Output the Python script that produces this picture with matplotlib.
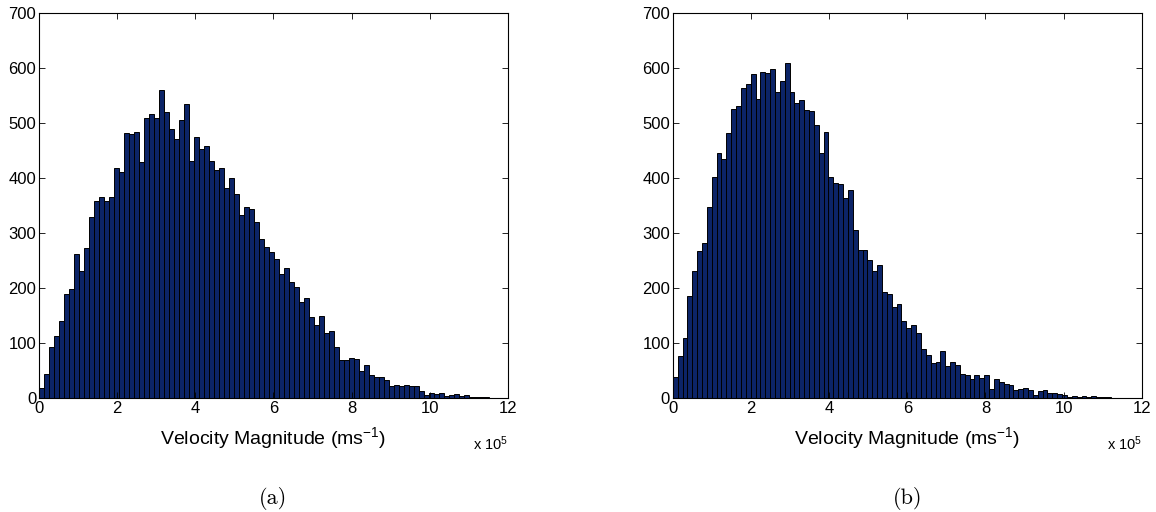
import numpy as np
import matplotlib.pyplot as plt

# histogram counts (bins start at 0, units of 1e5 m/s)
counts_a = [17, 43, 92, 112, 139, 188, 198, 262, 230, 272,
            328, 358, 366, 358, 366, 417, 410, 481, 479, 484,
            428, 508, 516, 508, 560, 519, 488, 470, 505, 534,
            431, 474, 452, 457, 430, 414, 417, 382, 400, 371,
            332, 347, 343, 319, 288, 274, 265, 253, 226, 236,
            211, 202, 174, 181, 147, 132, 148, 117, 121, 92,
            68, 68, 72, 70, 49, 59, 41, 38, 38, 32,
            21, 24, 21, 24, 21, 21, 13, 5, 9, 7,
            9, 3, 5, 7, 4, 5, 2, 2, 2, 1]
bin_width_a = 0.128

counts_b = [38, 76, 108, 185, 230, 267, 282, 347, 401, 446,
            434, 482, 525, 530, 563, 570, 588, 543, 593, 590,
            598, 556, 576, 608, 556, 536, 542, 523, 522, 496,
            445, 483, 401, 391, 388, 363, 377, 305, 268, 269,
            250, 230, 242, 192, 188, 165, 170, 140, 127, 132,
            118, 88, 78, 64, 65, 85, 57, 65, 59, 43,
            42, 34, 41, 36, 41, 16, 34, 29, 25, 23,
            14, 16, 17, 14, 5, 12, 14, 9, 9, 7,
            5, 1, 4, 2, 3, 2, 3, 1, 2, 1]
bin_width_b = 0.1245

x_ticks = [0, 2, 4, 6, 8, 10, 12]
y_ticks = [0, 100, 200, 300, 400, 500, 600, 700]
panel_labels = ["(a)", "(b)"]

plt.rcParams["font.family"] = ["Liberation Sans", "DejaVu Sans"]
plt.rcParams["mathtext.fontset"] = "custom"
plt.rcParams["mathtext.rm"] = "Liberation Sans"
plt.rcParams["mathtext.it"] = "Liberation Sans:italic"

fig = plt.figure(figsize=(11.56, 5.12), dpi=100)
ax_a = fig.add_axes([0.0337, 0.223, 0.4057, 0.752])
ax_b = fig.add_axes([0.582, 0.223, 0.4057, 0.752])

for ax, counts, w, lab in [(ax_a, counts_a, bin_width_a, panel_labels[0]),
                           (ax_b, counts_b, bin_width_b, panel_labels[1])]:
    edges = np.arange(len(counts)) * w
    ax.bar(edges, counts, width=w, align="edge", color="#0c2467",
           edgecolor="black", linewidth=0.7)
    ax.set_xlim(0, 12)
    ax.set_ylim(0, 700)
    ax.set_xticks(x_ticks)
    ax.set_yticks(y_ticks)
    ax.tick_params(direction="in", top=True, right=True, length=4,
                   labelsize=12, width=0.6, pad=2)
    for s in ax.spines.values():
        s.set_linewidth(0.8)
    ax.set_xlabel(r"Velocity Magnitude (ms$^{-1}$)", fontsize=14, labelpad=7)
    ax.text(1.0, -0.118, r"x 10$^{5}$", transform=ax.transAxes,
            ha="right", va="center", fontsize=10.5)
    ax.text(0.5, -0.262, lab, transform=ax.transAxes, ha="center",
            va="center", fontsize=16, family="cmr10")

fig.savefig("out.png", dpi=100)
